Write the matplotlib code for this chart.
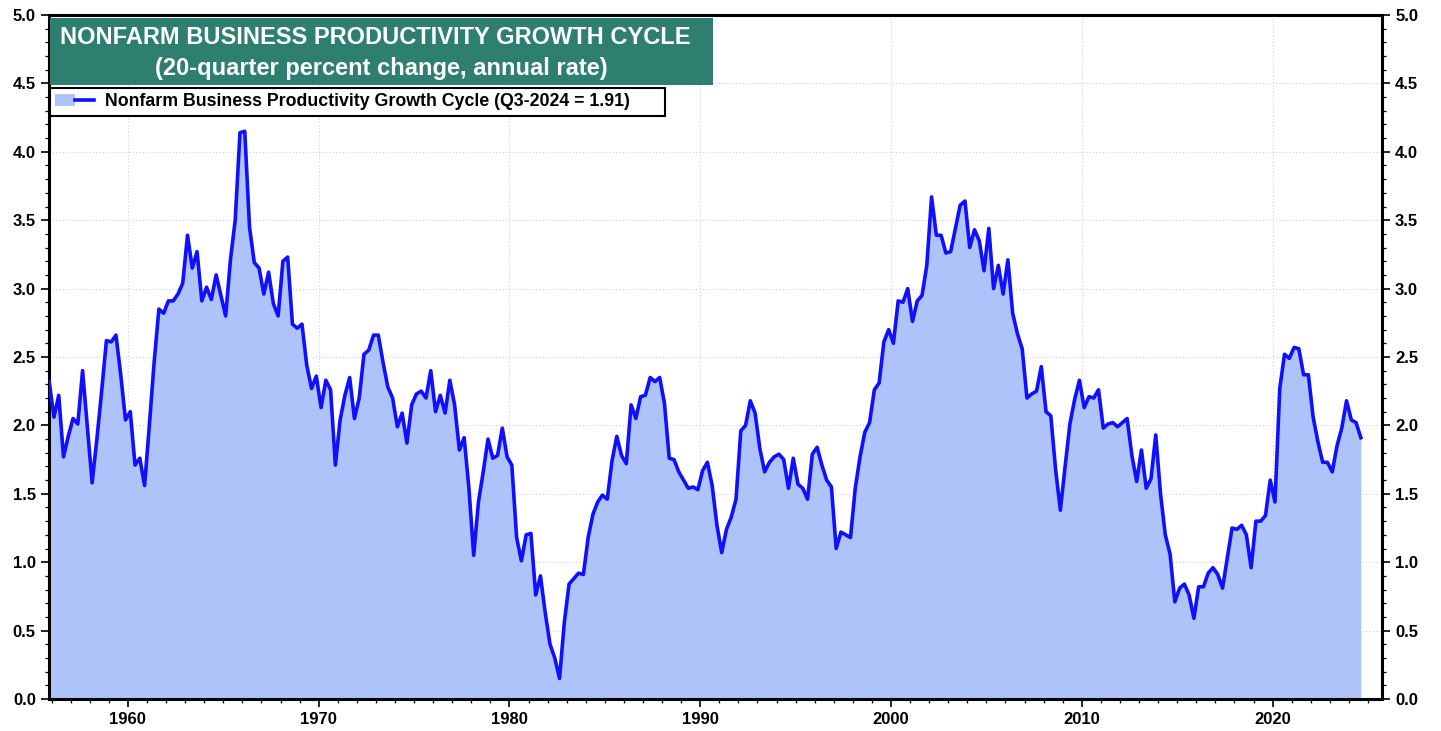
import numpy as np
import pandas as pd
import matplotlib as mpl
mpl.use('agg')
import matplotlib.pyplot as plt
from matplotlib.patches import Rectangle, Patch
from matplotlib.lines import Line2D
from matplotlib.legend_handler import HandlerTuple


##--##--##--  data : 20-quarter % change, annual rate, Q4-1955 .. Q3-2024  --##--##--##
first_q = '1955Q4'
last_q = '2024Q3'
growth = [
    2.32, 2.06, 2.22, 1.77,  1.92, 2.05, 2.01, 2.40,  1.99, 1.58, 1.90, 2.25,
    2.62, 2.61, 2.66, 2.37,  2.04, 2.10, 1.71, 1.76,  1.56, 2.00, 2.46, 2.85,
    2.82, 2.91, 2.91, 2.96,  3.04, 3.39, 3.15, 3.27,  2.91, 3.01, 2.92, 3.10,
    2.95, 2.80, 3.21, 3.50,  4.14, 4.15, 3.45, 3.19,  3.15, 2.96, 3.12, 2.89,
    2.80, 3.20, 3.23, 2.74,  2.71, 2.74, 2.44, 2.27,  2.36, 2.13, 2.33, 2.26,
    1.71, 2.04, 2.22, 2.35,  2.05, 2.20, 2.52, 2.55,  2.66, 2.66, 2.46, 2.28,
    2.20, 1.99, 2.09, 1.87,  2.15, 2.23, 2.25, 2.20,  2.40, 2.10, 2.22, 2.09,
    2.33, 2.15, 1.82, 1.91,  1.54, 1.05, 1.44, 1.66,  1.90, 1.76, 1.78, 1.98,
    1.77, 1.71, 1.18, 1.01,  1.20, 1.21, 0.76, 0.90,  0.63, 0.40, 0.30, 0.15,
    0.56, 0.84, 0.88, 0.92,  0.91, 1.18, 1.35, 1.44,  1.49, 1.46, 1.74, 1.92,
    1.78, 1.72, 2.15, 2.05,  2.21, 2.22, 2.35, 2.32,  2.35, 2.16, 1.76, 1.75,
    1.66, 1.60, 1.54, 1.55,  1.53, 1.67, 1.73, 1.56,  1.27, 1.07, 1.24, 1.33,
    1.46, 1.96, 2.00, 2.18,  2.09, 1.83, 1.66, 1.73,  1.77, 1.79, 1.75, 1.54,
    1.76, 1.57, 1.54, 1.46,  1.79, 1.84, 1.71, 1.60,  1.55, 1.10, 1.22, 1.20,
    1.18, 1.54, 1.77, 1.95,  2.02, 2.26, 2.31, 2.61,  2.70, 2.60, 2.91, 2.90,
    3.00, 2.76, 2.91, 2.95,  3.17, 3.67, 3.39, 3.39,  3.26, 3.27, 3.44, 3.61,
    3.64, 3.30, 3.43, 3.35,  3.13, 3.44, 3.00, 3.17,  2.96, 3.21, 2.82, 2.67,
    2.56, 2.20, 2.23, 2.25,  2.43, 2.10, 2.07, 1.68,  1.38, 1.70, 2.01, 2.19,
    2.33, 2.13, 2.21, 2.20,  2.26, 1.98, 2.01, 2.02,  1.99, 2.02, 2.05, 1.78,
    1.59, 1.82, 1.54, 1.61,  1.93, 1.50, 1.20, 1.06,  0.71, 0.81, 0.84, 0.76,
    0.59, 0.82, 0.82, 0.92,  0.96, 0.91, 0.81, 1.03,  1.25, 1.24, 1.27, 1.20,
    0.96, 1.30, 1.30, 1.34,  1.60, 1.44, 2.27, 2.52,  2.49, 2.57, 2.56, 2.37,
    2.37, 2.06, 1.88, 1.73,  1.73, 1.66, 1.85, 1.98,  2.18, 2.04, 2.02, 1.91,
]
year_ticks = [1960, 1970, 1980, 1990, 2000, 2010, 2020]
title1 = 'NONFARM BUSINESS PRODUCTIVITY GROWTH CYCLE'
title2 = '(20-quarter percent change, annual rate)'
legend_label = 'Nonfarm Business Productivity Growth Cycle (Q3-2024 = 1.91)'

quarters = pd.period_range(first_q, last_q, freq='Q')
t = quarters.year + (quarters.quarter - 1) / 4.0 + 0.125   # mid quarter
growth = np.array(growth)

line_c = '#1010ff'
fill_c = '#adc3fa'
box_c = '#2e7f70'
narrow = ['Liberation Sans Narrow', 'Liberation Sans', 'DejaVu Sans']


##--##--##--  create figure  --##--##--##
fig = plt.figure(figsize=(14.41, 7.31), dpi=100)
ax = fig.add_axes([0.034, 0.0438, 0.925, 0.9357])

ax.fill_between(t, 0, growth, color=fill_c, lw=0, zorder=2)
ax.plot(t, growth, color=line_c, lw=2.6, zorder=3, solid_joinstyle='round')

ax.set_xlim(t[0] - 0.01, 2025.73)
ax.set_ylim(0.0, 5.0)

ax.set_xticks(year_ticks)
ax.set_xticks(np.arange(1956, 2026, 1), minor=True)
ax.set_yticks(np.arange(0, 5.01, 0.5))
ax.set_yticks(np.arange(0, 5.01, 0.1), minor=True)
ax.yaxis.set_major_formatter(mpl.ticker.FormatStrFormatter('%.1f'))

ax.grid(which='major', color='#d0d0d0', ls=(0, (1, 2)), lw=0.8, zorder=1)

ax.tick_params(axis='both', which='major', length=6, width=1.2, direction='out')
ax.tick_params(axis='both', which='minor', length=3, width=0.9, direction='out')
ax.tick_params(axis='y', which='both', left=True, right=True, labelleft=True, labelright=True)
ax.tick_params(axis='x', which='both', top=False)
for lab in ax.get_xticklabels() + ax.get_yticklabels():
    lab.set_fontweight('bold')
    lab.set_fontsize(12)
    lab.set_family(narrow)

for sp in ax.spines.values():
    sp.set_linewidth(2.2)
    sp.set_color('black')

## title box
fig.patches.append(Rectangle((50 / 1441, 1 - 85 / 731), 663 / 1441, 67 / 731,
                             transform=fig.transFigure, facecolor=box_c,
                             edgecolor='none', zorder=5))
fig.text(375 / 1441, 1 - 37 / 731, title1, color='white', fontsize=17, fontweight='bold',
         family=narrow, ha='center', va='center', zorder=6)
fig.text(381 / 1441, 1 - 69 / 731, title2, color='white', fontsize=17, fontweight='bold',
         family=narrow, ha='center', va='center', zorder=6)

## legend (fixed-width box)
h_fill = Patch(facecolor=fill_c, edgecolor='none')
h_line = Line2D([], [], color=line_c, lw=2.6)
leg = ax.legend([(h_fill, h_line)], [legend_label],
                handler_map={tuple: HandlerTuple(ndivide=None, pad=0)},
                loc='upper left', mode='expand',
                bbox_to_anchor=(50 / 1441, 1 - 117 / 731, 615 / 1441, 29 / 731),
                bbox_transform=fig.transFigure, frameon=True, fancybox=False,
                edgecolor='black', framealpha=1, borderpad=0.3, handlelength=2.2,
                handletextpad=0.6, borderaxespad=0,
                prop={'family': narrow, 'weight': 'bold', 'size': 12.8})
leg.get_frame().set_linewidth(1.5)

fig.savefig('out.png', dpi=100)
